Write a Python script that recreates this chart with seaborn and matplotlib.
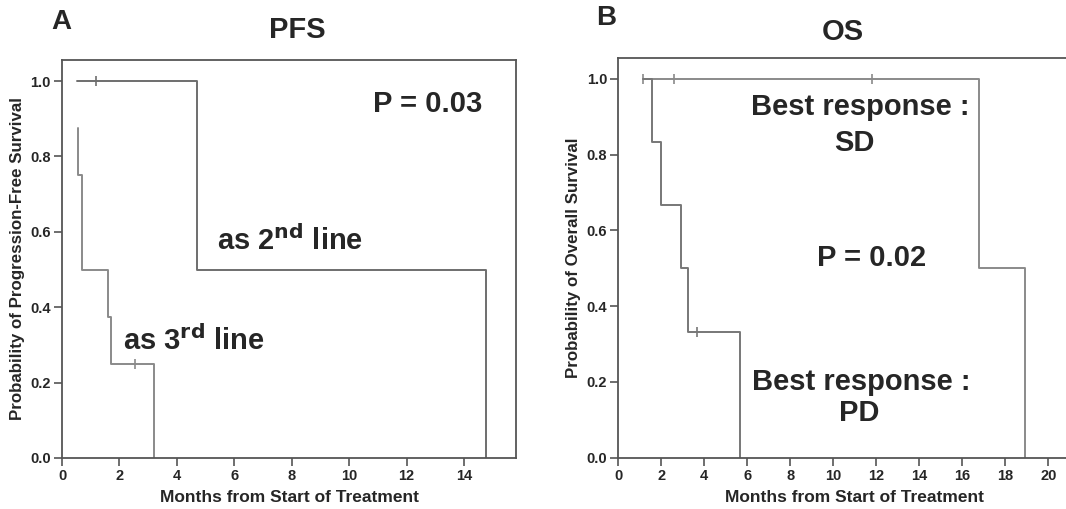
import matplotlib
matplotlib.use("Agg")
import matplotlib.pyplot as plt
import seaborn as sns
import pandas as pd

# PFS step curves (time in months, survival after step)
pfs_2nd_t = [0.51, 4.69, 14.77]
pfs_2nd_s = [1.0, 0.5, 0.0]
pfs_3rd_t = [0.54, 0.54, 0.71, 1.59, 1.71, 3.20]
pfs_3rd_s = [0.875, 0.75, 0.5, 0.375, 0.25, 0.0]
pfs_2nd_cens_t, pfs_2nd_cens_s = [1.17], [1.0]
pfs_3rd_cens_t, pfs_3rd_cens_s = [2.54], [0.25]

# OS step curves
os_sd_t = [1.13, 16.78, 18.90]
os_sd_s = [1.0, 0.5, 0.0]
os_pd_t = [1.13, 1.58, 1.97, 2.90, 3.23, 5.66]
os_pd_s = [1.0, 0.833, 0.667, 0.5, 0.333, 0.0]
os_sd_cens_t, os_sd_cens_s = [1.13, 2.59, 11.8], [1.0, 1.0, 1.0]
os_pd_cens_t, os_pd_cens_s = [3.66], [0.333]

pfs_xticks = [0, 2, 4, 6, 8, 10, 12, 14]
os_xticks = [0, 2, 4, 6, 8, 10, 12, 14, 16, 18, 20]
yticks = [0.0, 0.2, 0.4, 0.6, 0.8, 1.0]

sns.set_theme(style="white")
plt.rcParams['font.family'] = ['Liberation Sans', 'DejaVu Sans']
plt.rcParams['font.weight'] = 'bold'

txt = "#262626"
spine_c = "#555555"

fig = plt.figure(figsize=(10.66, 5.09), dpi=100)
ax1 = fig.add_axes([0.0582, 0.1002, 0.426, 0.782])
ax2 = fig.add_axes([0.580, 0.1008, 0.4437, 0.785])


def step(ax, t, s, color, lw=1.4):
    df = pd.DataFrame({"t": t, "s": s})
    sns.lineplot(data=df, x="t", y="s", ax=ax, estimator=None, sort=False,
                 drawstyle="steps-post", color=color, lw=lw)


def censor(ax, t, s, color):
    df = pd.DataFrame({"t": t, "s": s})
    sns.scatterplot(data=df, x="t", y="s", ax=ax, marker="|", s=60,
                    color=color, linewidth=1.2)


step(ax1, pfs_2nd_t, pfs_2nd_s, "#6e6e6e")
step(ax1, pfs_3rd_t, pfs_3rd_s, "#8a8a8a")
censor(ax1, pfs_2nd_cens_t, pfs_2nd_cens_s, "#6e6e6e")
censor(ax1, pfs_3rd_cens_t, pfs_3rd_cens_s, "#8a8a8a")

step(ax2, os_sd_t, os_sd_s, "#8a8a8a")
step(ax2, os_pd_t, os_pd_s, "#777777")
censor(ax2, os_sd_cens_t, os_sd_cens_s, "#8a8a8a")
censor(ax2, os_pd_cens_t, os_pd_cens_s, "#777777")

for ax, xmax, xt, ylab, ymax in [
        (ax1, 15.82, pfs_xticks, "Probability of Progression-Free Survival", 1.056),
        (ax2, 22.0, os_xticks, "Probability of Overall Survival", 1.055)]:
    ax.set_xlim(0, xmax)
    ax.set_ylim(0, ymax)
    ax.set_xticks(xt)
    ax.set_xticklabels([str(v) for v in xt])
    ax.set_yticks(yticks)
    ax.set_yticklabels([f"{v:.1f}" for v in yticks])
    ax.tick_params(axis="both", direction="out", length=6, width=1.2,
                   color=spine_c, labelsize=10.5, labelcolor=txt, pad=2)
    ax.tick_params(axis="both", which="both", bottom=True, left=True)
    for sp in ax.spines.values():
        sp.set_color(spine_c)
        sp.set_linewidth(1.3)
    ax.set_xlabel("Months from Start of Treatment", fontsize=12.5,
                  fontweight="bold", color=txt, labelpad=5)
    ax.set_ylabel(ylab, fontsize=12.2, fontweight="bold", color=txt, labelpad=4)

big = dict(fontsize=21, fontweight="bold", color=txt, ha="center", va="center")
ax1.text(12.75, 0.94, "P = 0.03", **big)
ax1.text(7.94, 0.576, r"as 2$^{\mathbf{nd}}$ line", **big)
ax1.text(4.6, 0.31, r"as 3$^{\mathbf{rd}}$ line", **big)

ax2.text(11.24, 0.926, "Best response :", **big)
ax2.text(11.0, 0.831, "SD", **big)
ax2.text(11.8, 0.527, "P = 0.02", **big)
ax2.text(11.3, 0.20, "Best response :", **big)
ax2.text(11.2, 0.118, "PD", **big)

fig.text(61 / 1066, 1 - 22 / 509, "A", fontsize=20, fontweight="bold",
         color=txt, ha="center", va="center")
fig.text(297 / 1066, 1 - 30 / 509, "PFS", fontsize=21, fontweight="bold",
         color=txt, ha="center", va="center")
fig.text(606 / 1066, 1 - 18 / 509, "B", fontsize=20, fontweight="bold",
         color=txt, ha="center", va="center")
fig.text(843 / 1066, 1 - 32 / 509, "OS", fontsize=21, fontweight="bold",
         color=txt, ha="center", va="center")

fig.savefig("out.png", dpi=100)
